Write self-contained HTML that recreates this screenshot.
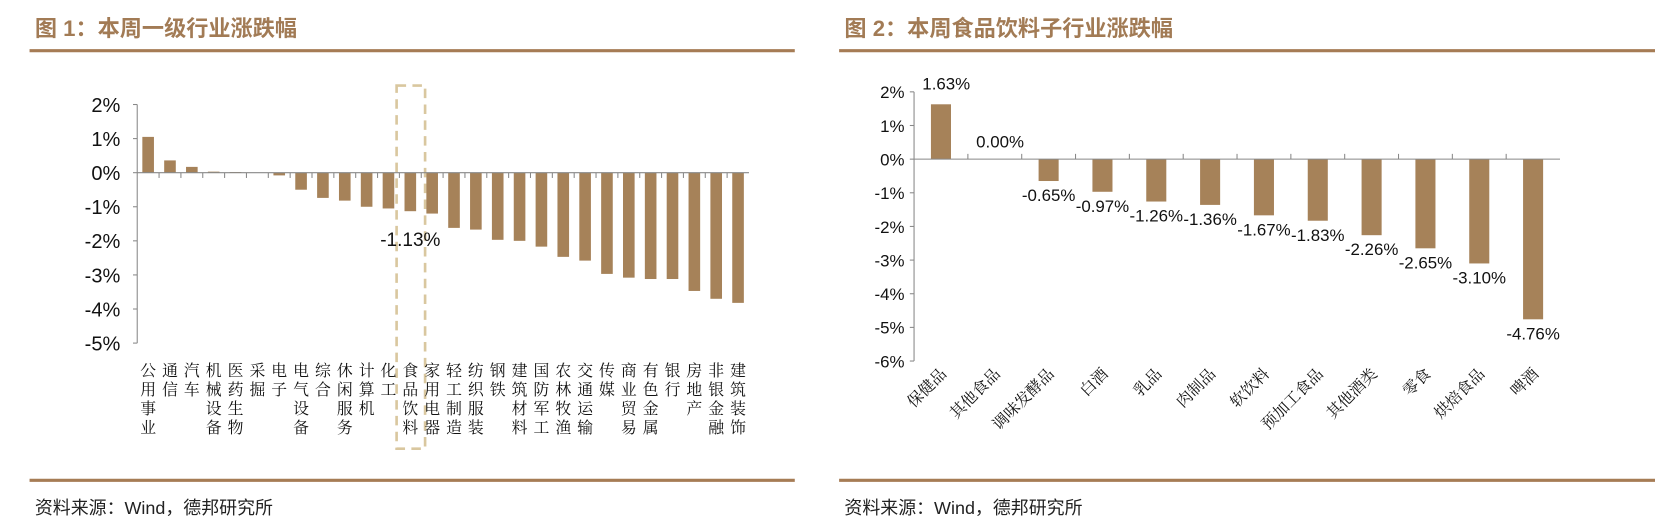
<!DOCTYPE html>
<html><head><meta charset="utf-8"><style>
body{margin:0;background:#fff}
svg{display:block}
text{font-family:"Liberation Sans","Noto Sans CJK SC",sans-serif}
.cjk{font-family:"Noto Serif CJK SC","Noto Sans CJK SC",serif}
</style></head><body>
<svg id="svg" width="1655" height="531" viewBox="0 0 1568 503" preserveAspectRatio="none" xmlns="http://www.w3.org/2000/svg">
<text x="33" y="34" fill="#a27b55" font-size="21" font-weight="bold">图 1：本周一级行业涨跌幅</text>
<line x1="28" y1="48" x2="753" y2="48" stroke="#a67c55" stroke-width="3"/>
<line x1="28" y1="455" x2="753" y2="455" stroke="#a67c55" stroke-width="3"/>
<text x="33" y="487" fill="#222" font-size="17">资料来源：Wind，德邦研究所</text>
<text x="800" y="34" fill="#a27b55" font-size="21" font-weight="bold">图 2：本周食品饮料子行业涨跌幅</text>
<line x1="795" y1="48" x2="1625" y2="48" stroke="#a67c55" stroke-width="3"/>
<line x1="795" y1="455" x2="1625" y2="455" stroke="#a67c55" stroke-width="3"/>
<text x="800" y="487" fill="#222" font-size="17">资料来源：Wind，德邦研究所</text>
<g id="c1"></g>
<g id="c2"></g>
</svg>
<script>
const cats1=["公用事业","通信","汽车","机械设备","医药生物","采掘","电子","电气设备","综合","休闲服务","计算机","化工","食品饮料","家用电器","轻工制造","纺织服装","钢铁","建筑材料","国防军工","农林牧渔","交通运输","传媒","商业贸易","有色金属","银行","房地产","非银金融","建筑装饰"];
const vals1=[1.05,0.36,0.17,0.03,0.02,0,-0.08,-0.5,-0.74,-0.82,-1.0,-1.05,-1.13,-1.2,-1.62,-1.67,-1.97,-2.0,-2.17,-2.47,-2.58,-2.97,-3.08,-3.12,-3.12,-3.47,-3.7,-3.82];
const ticks1=[2,1,0,-1,-2,-3,-4,-5];
const highlight1="食品饮料";
const highlightLabel1="-1.13%";
const cats2=["保健品","其他食品","调味发酵品","白酒","乳品","肉制品","软饮料","预加工食品","其他酒类","零食","烘焙食品","啤酒"];
const vals2=[1.63,0.00,-0.65,-0.97,-1.26,-1.36,-1.67,-1.83,-2.26,-2.65,-3.10,-4.76];
const ticks2=[2,1,0,-1,-2,-3,-4,-5,-6];
const NS="http://www.w3.org/2000/svg";
function mk(p,t,a){const e=document.createElementNS(NS,t);for(const k in a)e.setAttribute(k,a[k]);p.appendChild(e);return e;}
const BAR="#a68259",AX="#888";
// chart 1
(function(){
 const g=document.getElementById('c1');
 const x0=130,step=20.7,yTop=99,yBot=325,vmax=2,vmin=-5;
 const y=v=>yTop+(vmax-v)*(yBot-yTop)/(vmax-vmin);
 const x=i=>x0+step*(i+0.5);
 const ax=mk(g,'line',{x1:x0,y1:yTop,x2:x0,y2:yBot,stroke:AX});
 
 
 ticks1.forEach(t=>{
  const l=mk(g,'line',{x1:x0-4,y1:y(t),x2:x0,y2:y(t),stroke:AX});
  
  
  const tx=mk(g,'text',{x:x0-16,y:y(t)+7,'text-anchor':'end','font-size':19,fill:'#111'});
  tx.textContent=t+'%';
  
  
 });
 const hi=cats1.indexOf(highlight1);
 const box=mk(g,'rect',{x:x(hi)-13,y:81,width:27,height:344,fill:'none',stroke:'#d9c79f','stroke-width':2.5,'stroke-dasharray':'9 6'});
 
 
 cats1.forEach((c,i)=>{
  const v=vals1[i];
  const r=mk(g,'rect',{x:x(i)-5.5,y:Math.min(y(v),y(0)),width:11,height:Math.abs(y(v)-y(0)),fill:BAR});
  
  
  if(i>0){const tk=mk(g,'line',{x1:x0+step*i,y1:y(0),x2:x0+step*i,y2:y(0)+5,stroke:AX});
   
   }
  const t=mk(g,'text',{x:x(i),y:343,'font-size':15,fill:'#111','writing-mode':'tb','letter-spacing':3,class:'cjk'});
  t.textContent=c;
  
  
 });
 const za=mk(g,'line',{x1:x0,y1:y(0),x2:x0+step*cats1.length,y2:y(0),stroke:AX});
 
 
 const hl=mk(g,'text',{x:x(hi),y:233,'text-anchor':'middle','font-size':18,fill:'#111'});
 hl.textContent=highlightLabel1;
 
 
})();
// chart 2
(function(){
 const g=document.getElementById('c2');
 const x0=866,step=51,yTop=87,yBot=342,vmax=2,vmin=-6;
 const y=v=>yTop+(vmax-v)*(yBot-yTop)/(vmax-vmin);
 const x=i=>x0+step*(i+0.5);
 const ax=mk(g,'line',{x1:x0,y1:yTop,x2:x0,y2:yBot,stroke:AX});
 
 
 ticks2.forEach(t=>{
  const l=mk(g,'line',{x1:x0-4,y1:y(t),x2:x0,y2:y(t),stroke:AX});
  
  
  const tx=mk(g,'text',{x:x0-9,y:y(t)+6,'text-anchor':'end','font-size':16,fill:'#111'});
  tx.textContent=t+'%';
  
  
 });
 cats2.forEach((c,i)=>{
  const v=vals2[i];
  const r=mk(g,'rect',{x:x(i)-9.5,y:Math.min(y(v),y(0)),width:19,height:Math.abs(y(v)-y(0)),fill:BAR});
  
  
  if(i>0){const tk=mk(g,'line',{x1:x0+step*i,y1:y(0)-5,x2:x0+step*i,y2:y(0),stroke:AX});
   
   }
  const ly=v>0?y(v)-14:(v===0?y(0)-11:y(v)+19);
  const lab=mk(g,'text',{x:x(i)+(v>=0?5:0),y:ly,'text-anchor':'middle','font-size':16,fill:'#111'});
  lab.textContent=v.toFixed(2)+'%';
  
  
  const t=mk(g,'text',{x:x(i)+6,y:355,'text-anchor':'end','font-size':15,fill:'#111',class:'cjk',transform:`rotate(-45 ${x(i)+6} 355)`});
  t.textContent=c;
  
  
 });
 const za=mk(g,'line',{x1:x0,y1:y(0),x2:x0+step*cats2.length,y2:y(0),stroke:AX});
 
 
})();
</script>
</body></html>
